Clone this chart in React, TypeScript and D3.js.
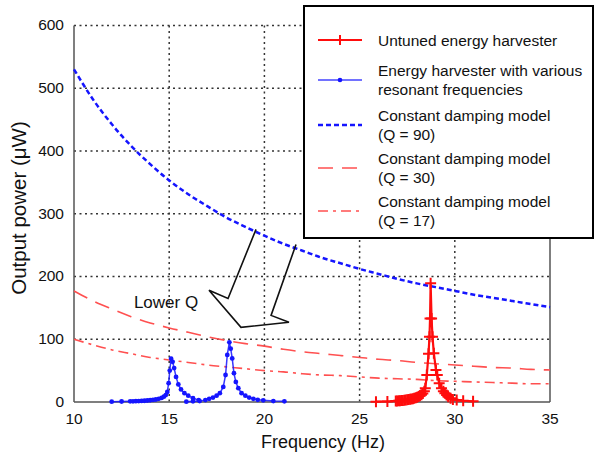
import React from "react";
import * as d3 from "d3";

const W = 596, H = 456;
const xTicks = [10, 15, 20, 25, 30, 35];
const yTicks = [0, 100, 200, 300, 400, 500, 600];

const modelFreq = [10, 11, 12, 13, 14, 15, 16, 17, 18, 19, 20, 21, 22, 23, 24, 25, 26, 27, 28, 29, 30, 31, 32, 33, 34, 35];
const q90 = [530, 482, 442, 408, 379, 353, 331, 312, 294, 279, 265, 252, 241, 230, 221, 212, 204, 196, 189, 183, 177, 171, 166, 161, 156, 151];
const q30 = [177, 161, 148, 136, 126, 118, 111, 104, 98, 93, 89, 84, 80, 77, 74, 71, 68, 66, 63, 61, 59, 57, 55, 54, 52, 51];
const q17 = [100, 91, 83, 77, 71, 67, 63, 59, 56, 53, 50, 48, 45, 43, 42, 40, 38, 37, 36, 34, 33, 32, 31, 30, 29, 29];

const blue1F = [11.98, 12.5, 12.95, 13.1, 13.25, 13.4, 13.55, 13.7, 13.85, 14.0, 14.15, 14.3, 14.45, 14.6, 14.72, 14.82, 14.9, 14.97, 15.03, 15.1, 15.18, 15.26, 15.36, 15.48, 15.62, 15.8, 16.0, 16.25, 16.55];
const blue1P = [0.5, 0.8, 1, 1.1, 1.3, 1.5, 1.7, 2, 2.4, 2.8, 3.3, 4, 5, 6.5, 8.5, 11, 16, 30, 50, 69, 64, 54, 40, 28, 20, 14, 10, 6, 3];
const blue2F = [15.9, 16.25, 16.6, 16.9, 17.1, 17.3, 17.49, 17.66, 17.84, 17.96, 18.05, 18.16, 18.23, 18.31, 18.4, 18.5, 18.63, 18.8, 19.0, 19.2, 19.42, 19.65, 19.94, 20.47, 21.05];
const blue2P = [0.5, 1, 1.5, 3, 5, 7, 10, 14, 24, 43, 75, 95, 85, 69.5, 46, 32, 22, 14, 10, 7, 5, 3.5, 2.7, 1.5, 1];

const redF = [25.86, 26.46, 26.9, 26.97, 27.05, 27.12, 27.2, 27.27, 27.35, 27.42, 27.5, 27.57, 27.65, 27.72, 27.8, 27.87, 27.95, 28.02, 28.1, 28.17, 28.25, 28.32, 28.4, 28.45, 28.53, 28.62, 28.67, 28.7, 28.73, 28.78, 28.83, 28.9, 29.01, 29.08, 29.18, 29.3, 29.4, 29.48, 29.57, 29.65, 29.78, 29.9, 30.1, 30.44, 30.96];
const redP = [0.5, 0.8, 1.5, 1.7, 1.9, 2.1, 2.3, 2.5, 2.8, 3.1, 3.4, 3.8, 4.2, 4.7, 5.3, 6, 6.8, 7.7, 8.8, 10, 11.5, 13.5, 17, 22, 43, 77, 104, 133, 189, 133, 104, 77.5, 51, 43, 30, 22, 17, 14, 11, 8.5, 6, 4, 3, 2, 1];

// Hollow "Lower Q" arrow outline, in data coordinates (Hz, µW)
const arrowF = [19.56, 18.09, 17.09, 18.77, 21.29, 20.35, 21.66];
const arrowP = [275, 165, 178, 119, 127, 138, 251];

const legendItems = [
  { lines: ["Untuned energy harvester"], kind: "red" },
  { lines: ["Energy harvester with various", "resonant frequencies"], kind: "blue" },
  { lines: ["Constant damping model", "(Q = 90)"], kind: "q90" },
  { lines: ["Constant damping model", "(Q = 30)"], kind: "q30" },
  { lines: ["Constant damping model", "(Q = 17)"], kind: "q17" },
];

const FONT = "'Liberation Sans', Arial, Helvetica, sans-serif";
const BLUE = "#1515ff";
const RED = "#ff0d0d";
const SALMON = "#ff5050";

export default function App() {
  const left = 74, right = 550, top = 25.4, bottom = 402;
  const x = d3.scaleLinear().domain([10, 35]).range([left, right]);
  const y = d3.scaleLinear().domain([0, 600]).range([bottom, top]);

  const line = d3.line<[number, number]>().x(d => x(d[0])).y(d => y(d[1]));
  const curve = d3.line<[number, number]>().x(d => x(d[0])).y(d => y(d[1])).curve(d3.curveMonotoneX);
  const zip = (a: number[], b: number[]) => a.map((v, i) => [v, b[i]] as [number, number]);

  const blue1 = zip(blue1F, blue1P);
  const blue2 = zip(blue2F, blue2P);
  const red = zip(redF, redP);
  const arrow = zip(arrowF, arrowP);

  const plus = (cx: number, cy: number, s: number, key: any) => (
    <path key={key} d={`M${cx - s},${cy}H${cx + s}M${cx},${cy - s}V${cy + s}`} stroke={RED} strokeWidth={2} fill="none" />
  );

  // legend geometry
  const lgX = 304, lgY = 6, lgW = 289, lgH = 232;
  const rowCenters = [40, 80, 125, 168, 211];
  const sampleX0 = 318, sampleX1 = 362, textX = 378;

  const sample = (kind: string, cy: number) => {
    if (kind === "red")
      return (
        <g>
          <line x1={sampleX0} x2={sampleX1} y1={cy} y2={cy} stroke={RED} strokeWidth={2} />
          {plus((sampleX0 + sampleX1) / 2, cy, 5, "p")}
        </g>
      );
    if (kind === "blue")
      return (
        <g>
          <line x1={sampleX0} x2={sampleX1} y1={cy} y2={cy} stroke={BLUE} strokeWidth={1.5} opacity={0.8} />
          <circle cx={(sampleX0 + sampleX1) / 2} cy={cy} r={2.3} fill={BLUE} />
        </g>
      );
    if (kind === "q90")
      return <line x1={sampleX0} x2={sampleX1} y1={cy} y2={cy} stroke={BLUE} strokeWidth={2.5} strokeDasharray="5,3" />;
    if (kind === "q30")
      return <line x1={sampleX0} x2={sampleX1} y1={cy} y2={cy} stroke={SALMON} strokeWidth={1.6} strokeDasharray="15,9" />;
    return <line x1={sampleX0} x2={sampleX1} y1={cy} y2={cy} stroke={SALMON} strokeWidth={1.6} strokeDasharray="10,5,3,5" />;
  };

  return (
    <svg width={W} height={H} style={{ position: "absolute", left: 0, top: 0, background: "#fff" }} fontFamily={FONT}>
      <rect x={0} y={0} width={W} height={H} fill="#fff" />
      {/* grid */}
      {xTicks.slice(1, -1).map(t => (
        <line key={"gx" + t} x1={x(t)} x2={x(t)} y1={top} y2={bottom} stroke="#333" strokeWidth={1.5} strokeDasharray="2,3.5" />
      ))}
      {yTicks.slice(1).map(t => (
        <line key={"gy" + t} x1={left} x2={right} y1={y(t)} y2={y(t)} stroke="#333" strokeWidth={1.5} strokeDasharray="2,3.5" />
      ))}
      {/* frame */}
      <line x1={left} x2={left} y1={top} y2={bottom} stroke="#555" strokeWidth={1.5} />
      <line x1={right} x2={right} y1={top} y2={bottom} stroke="#555" strokeWidth={1.5} />
      <line x1={left} x2={right} y1={bottom} y2={bottom} stroke="#555" strokeWidth={1.5} />

      {/* model curves */}
      <path d={curve(zip(modelFreq, q30)) || ""} fill="none" stroke={SALMON} strokeWidth={1.6} strokeDasharray="15,9" />
      <path d={curve(zip(modelFreq, q17)) || ""} fill="none" stroke={SALMON} strokeWidth={1.6} strokeDasharray="10,5,3,5" />
      <path d={curve(zip(modelFreq, q90)) || ""} fill="none" stroke={BLUE} strokeWidth={2.5} strokeDasharray="5,3" />

      {/* measured blue */}
      <path d={line(blue1) || ""} fill="none" stroke={BLUE} strokeWidth={1.5} opacity={0.85} />
      <path d={line(blue2) || ""} fill="none" stroke={BLUE} strokeWidth={1.5} opacity={0.85} />
      {[...blue1, ...blue2].map((d, i) => (
        <circle key={"b" + i} cx={x(d[0])} cy={y(d[1])} r={2.4} fill={BLUE} />
      ))}

      {/* measured red */}
      <path d={line(red) || ""} fill="none" stroke={RED} strokeWidth={2.2} />
      {red.map((d, i) => plus(x(d[0]), y(d[1]), 5.5, "r" + i))}

      {/* arrow */}
      <path d={(line(arrow) || "")} fill="none" stroke="#111" strokeWidth={1.6} strokeLinejoin="miter" />
      <text x={166} y={308} fontSize={17} textAnchor="middle" fill="#111">Lower Q</text>

      {/* tick labels */}
      {xTicks.map(t => (
        <text key={"tx" + t} x={x(t)} y={424} fontSize={15.5} textAnchor="middle" fill="#111">{t}</text>
      ))}
      {yTicks.map(t => (
        <text key={"ty" + t} x={64} y={y(t) + 5} fontSize={15.5} textAnchor="end" fill="#111">{t}</text>
      ))}

      {/* axis titles */}
      <text x={323} y={448} fontSize={18} textAnchor="middle" fill="#111">Frequency (Hz)</text>
      <text transform={`translate(26,208) rotate(-90)`} fontSize={20.5} textAnchor="middle" fill="#111">Output power (μW)</text>

      {/* legend */}
      <rect x={lgX} y={lgY} width={lgW} height={lgH} fill="#fff" stroke="#000" strokeWidth={2} />
      {legendItems.map((it, i) => {
        const cy = rowCenters[i];
        const n = it.lines.length;
        return (
          <g key={"lg" + i}>
            {sample(it.kind, cy)}
            {it.lines.map((s, j) => (
              <text key={j} x={textX} y={cy + 5.5 + (j - (n - 1) / 2) * 19} fontSize={15.5} fill="#111">{s}</text>
            ))}
          </g>
        );
      })}
    </svg>
  );
}
